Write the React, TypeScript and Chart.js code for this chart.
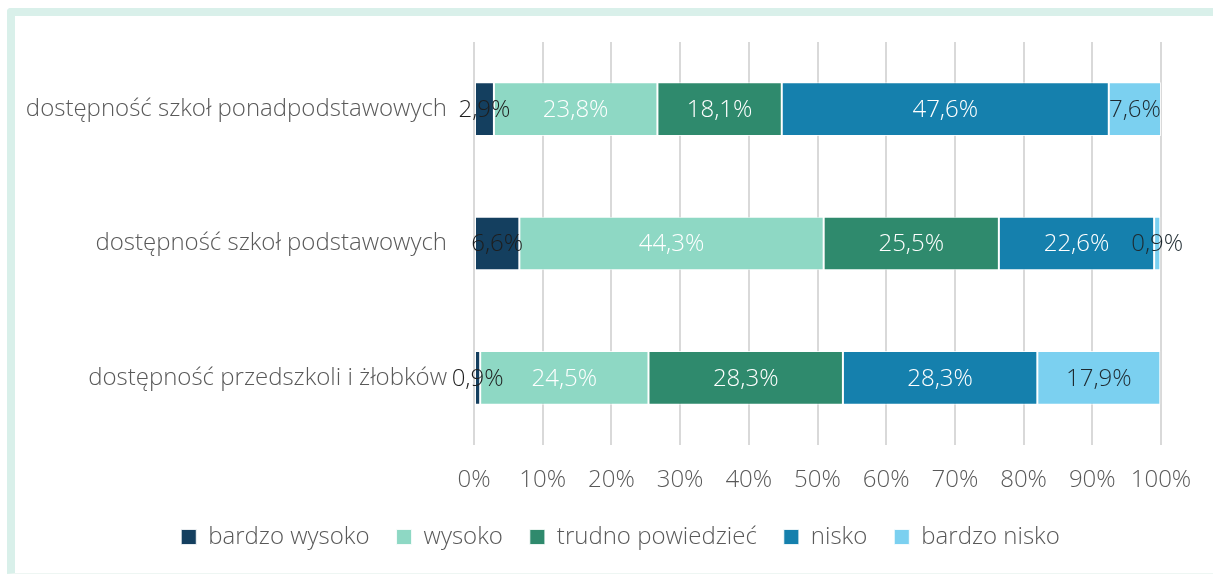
import React, { useEffect, useRef } from 'react';
import { Chart, registerables } from 'chart.js';

Chart.register(...registerables);

const categories = [
  'dostępność szkoł ponadpodstawowych',
  'dostępność szkoł podstawowych',
  'dostępność przedszkoli i żłobków',
];
const seriesNames = ['bardzo wysoko', 'wysoko', 'trudno powiedzieć', 'nisko', 'bardzo nisko'];
const bardzoWysoko = [2.9, 6.6, 0.9];
const wysoko = [23.8, 44.3, 24.5];
const trudnoPowiedziec = [18.1, 25.5, 28.3];
const nisko = [47.6, 22.6, 28.3];
const bardzoNisko = [7.6, 0.9, 17.9];
const xTicks = [0, 10, 20, 30, 40, 50, 60, 70, 80, 90, 100];

const seriesColors = ['#143f5f', '#8ed8c4', '#2f8a6d', '#1580ad', '#7bd0f0'];
const labelColors = ['#1e1e1e', '#ffffff', '#ffffff', '#ffffff', '#1e2a30'];
const FONT = '"Open Sans", "Noto Sans", sans-serif';
const TEXT = '#595959';
const FS = 24;

const fmt = (v: number) => v.toFixed(1).replace('.', ',') + '%';

const dataLabelPlugin = {
  id: 'dataLabels',
  afterDatasetsDraw(chart: any) {
    const ctx = chart.ctx;
    ctx.save();
    ctx.font = `300 ${FS}px ${FONT}`;
    ctx.textAlign = 'center';
    ctx.textBaseline = 'middle';
    chart.data.datasets.forEach((ds: any, di: number) => {
      const meta = chart.getDatasetMeta(di);
      meta.data.forEach((el: any, i: number) => {
        const v = ds.data[i];
        const cx = (el.x + el.base) / 2;
        ctx.fillStyle = labelColors[di];
        ctx.fillText(fmt(v), cx, el.y + 1);
      });
    });
    ctx.restore();
  },
};

// centre the legend row under the whole frame rather than the canvas
const legendShiftPlugin = {
  id: 'legendShift',
  afterLayout(chart: any) {
    if (chart.legend) {
      chart.legend.left += 14;
      chart.legend.right += 14;
    }
  },
};

export default function App() {
  const ref = useRef<HTMLCanvasElement | null>(null);
  useEffect(() => {
    if (!ref.current) return;
    const values = [bardzoWysoko, wysoko, trudnoPowiedziec, nisko, bardzoNisko];
    const chart = new Chart(ref.current, {
      type: 'bar',
      data: {
        labels: categories,
        datasets: seriesNames.map((name, i) => ({
          label: name,
          data: values[i],
          backgroundColor: seriesColors[i],
          borderColor: 'rgba(255,255,255,0.8)',
          borderWidth: 1,
          borderSkipped: false,
          barPercentage: 0.4,
          categoryPercentage: 1,
        })),
      },
      options: {
        indexAxis: 'y',
        responsive: false,
        animation: false,
        devicePixelRatio: 1,
        layout: { padding: { top: 42, left: 0, right: 0, bottom: 15 } },
        scales: {
          x: {
            stacked: true,
            min: 0,
            max: 100,
            afterBuildTicks: (scale: any) => {
              scale.ticks = xTicks.map((v) => ({ value: v }));
            },
            afterFit: (scale: any) => {
              scale.height = 53;
            },
            ticks: {
              callback: (v: any) => v + '%',
              color: TEXT,
              font: { family: FONT, size: FS, weight: '300' },
              padding: 21,
              maxRotation: 0,
            },
            grid: { color: '#d9d9d9', lineWidth: 2, drawTicks: false },
            border: { display: false },
          },
          y: {
            stacked: true,
            afterFit: (scale: any) => {
              scale.width = 474;
            },
            ticks: {
              color: TEXT,
              font: { family: FONT, size: FS, weight: '300' },
              padding: 27,
            },
            grid: { display: false, drawTicks: false },
            border: { display: false },
          },
          yRight: {
            type: 'linear',
            position: 'right',
            display: true,
            ticks: { display: false },
            grid: { display: false, drawTicks: false },
            border: { display: false },
            afterFit: (scale: any) => {
              scale.width = 52;
            },
          },
        },
        plugins: {
          tooltip: { enabled: false },
          legend: {
            position: 'bottom',
            labels: {
              color: TEXT,
              font: { family: FONT, size: FS, weight: '300' },
              boxWidth: 15,
              boxHeight: 15,
              padding: 27,
            },
          },
        },
      },
      plugins: [dataLabelPlugin, legendShiftPlugin],
    } as any);
    return () => chart.destroy();
  }, []);

  return (
    <div style={{ position: 'fixed', left: 0, top: 0, width: 1213, height: 574, background: '#fff' }}>
      <div
        style={{
          position: 'absolute',
          left: 7,
          top: 8,
          width: 1220,
          height: 557,
          borderTop: '8px solid #d9f0ea',
          borderLeft: '8px solid #d9f0ea',
          borderBottom: '1px solid #eef6f3',
          borderTopLeftRadius: 4,
        }}
      />
      <canvas
        ref={ref}
        width={1213}
        height={574}
        style={{ position: 'absolute', left: 0, top: 0, width: 1213, height: 574, display: 'block' }}
      />
    </div>
  );
}
